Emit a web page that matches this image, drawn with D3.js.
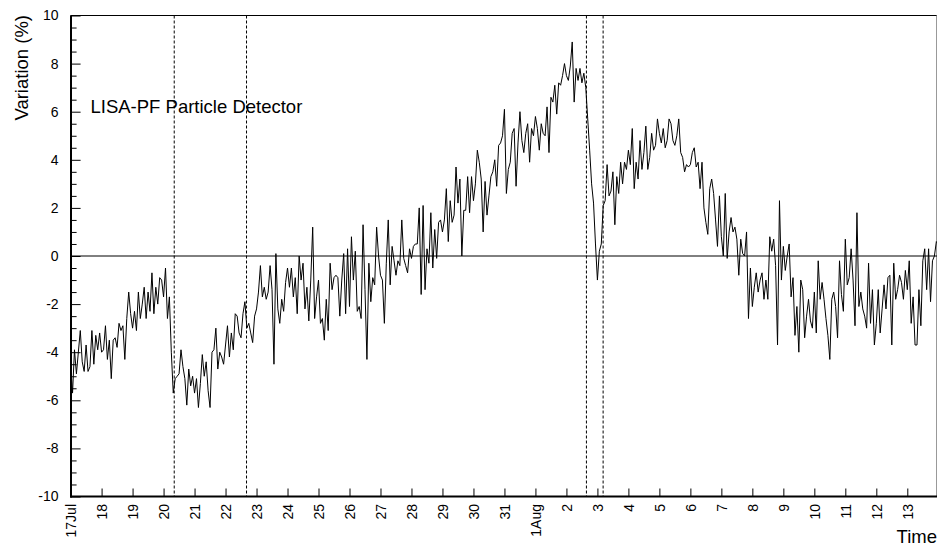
<!DOCTYPE html>
<html>
<head>
<meta charset="utf-8">
<script src="https://cdn.jsdelivr.net/npm/d3@7"></script>
<style>
  html, body { margin: 0; padding: 0; background: #fff; }
  svg { display: block; font-family: "Liberation Sans", Arial, Helvetica, sans-serif; }
</style>
</head>
<body>
<svg id="chart" width="938" height="548"></svg>
<script>
// Time axis: first sample, sampling step and the end of the visible range (UTC)
const startTime = "2016-07-17T00:00:00Z";
const endTime = "2016-08-13T23:00:00Z";
const stepHours = 1.5;

// Relative count-rate variation (%), one value every 1.5 h from 17 Jul
const variation = [
  -4.4,-5.7,-3.9,-4.9,-4.0,-3.1,-4.4,-4.8,-3.7,-4.8,
  -4.6,-3.1,-4.5,-3.3,-3.9,-3.2,-4.0,-3.9,-2.9,-4.3,
  -3.5,-5.1,-3.5,-3.4,-3.8,-2.8,-3.1,-2.9,-4.3,-2.6,
  -1.5,-2.4,-3.0,-2.3,-3.1,-1.5,-2.6,-2.0,-1.3,-2.6,
  -1.5,-2.3,-0.7,-2.4,-1.3,-2.0,-0.9,-1.0,-1.7,-0.5,
  -2.6,-1.7,-4.0,-5.7,-5.1,-5.0,-4.9,-3.9,-4.6,-5.1,
  -6.2,-4.7,-5.4,-5.0,-5.7,-5.1,-6.3,-5.3,-4.1,-5.0,
  -4.4,-5.6,-6.3,-4.0,-3.9,-3.0,-4.7,-4.0,-4.2,-4.5,
  -3.7,-2.9,-4.2,-3.2,-3.9,-2.4,-2.5,-3.2,-3.4,-2.4,
  -1.9,
  -3.0,-2.8,-3.2,-3.6,-2.5,-2.2,-1.5,-0.4,-1.7,-1.3,
  -1.8,-1.5,-0.4,-1.4,-4.5, 0.1,-2.2,-2.8,-1.8,-2.3,
  -1.1,-0.5,-1.3,-0.5,-1.7,-0.9,-2.4, 0.0,-1.0,-0.3,
  -2.2,-1.3,-2.7,-1.0, 1.2,-2.6,-1.7,-1.0,-2.8,-2.6,
  -3.5,-1.8,-3.1,-0.3,-1.4,-0.9,-0.8,-0.9,-2.5,-1.0,
   0.1,-2.4, 0.3,-2.1, 0.8,-1.0, 0.2,-2.3,-2.1,-2.6,
   1.3,-1.4,-4.3,-0.3,-1.9,-0.9,-1.2, 1.2, 0.0,-0.8,
  -1.0,-2.8,-0.3, 1.5,-1.2, 0.4,-0.2,-0.8,-0.2,-0.4,
   1.5,-0.1,-0.4,-0.7, 0.3,-0.1, 0.4, 0.5, 0.5, 2.0,
  -1.6,
   2.1,-1.4, 0.3,-0.3, 1.8,-0.5, 1.1,-0.1, 1.4, 1.5,
   1.0, 1.5, 2.8, 0.6, 2.3, 1.4, 1.7, 3.7, 2.2, 3.2,
   0.0, 1.9, 1.9, 3.3, 1.8, 3.3, 2.3, 3.0, 4.4, 3.9,
   3.2, 1.0, 3.1, 1.7, 2.5, 3.3, 3.5, 4.0, 2.9, 4.6,
   4.7, 5.0, 6.1, 2.6, 3.6, 3.9, 5.1, 5.3, 2.9, 4.7,
   6.0, 4.8, 4.3, 5.1, 5.5, 3.9, 5.3, 5.0, 5.8, 5.3,
   4.4, 5.5, 5.1, 5.0, 6.2, 4.3, 6.6, 6.4, 7.1, 5.9,
   7.2, 7.1, 7.5, 8.0, 7.5, 7.3, 7.9, 8.9, 6.4, 7.8,
   7.3, 7.8, 7.2, 7.6, 7.0,
   5.7, 4.4, 3.0, 2.2, 0.5,-1.0, 0.2, 0.5, 2.1, 2.3,
   3.8, 2.5, 2.7, 3.5, 1.3, 3.3, 2.6, 3.9, 3.0, 3.9,
   3.6, 4.4, 3.8, 5.3, 2.8, 3.9, 3.2, 4.8, 3.6, 4.3,
   5.4, 3.6, 4.1, 5.1, 4.4, 4.6, 5.7, 5.1, 4.7, 5.3,
   4.5, 4.8, 5.7, 5.5, 4.8, 4.6, 5.0, 5.7, 4.3, 4.1,
   3.5, 3.8, 3.7, 3.8, 4.3, 4.5, 3.7, 3.9, 2.8, 3.9,
   2.0, 1.4, 0.9, 2.8, 3.2, 2.6, 1.5, 0.4, 2.5, 0.8,
   0.0, 2.6,-0.1, 1.0, 1.6, 1.0, 1.2, 0.7,-0.8, 0.7,
   0.1, 0.0, 1.0,-2.6,-0.5,-2.1,-1.3,-0.7,-1.5,-1.0,
  -0.7,-1.8,-1.0,-1.8,
   0.8, 0.2, 0.7,-0.4,-3.7, 2.3,-1.0, 0.4,-0.6, 0.0,
   0.5,-1.7,-0.9,-3.3,-2.1,-4.0,-1.0,-1.4,-3.4,-2.5,
  -1.8,-2.7,-3.0,-1.5,-3.2,-0.2,-1.8,-1.1,-1.8,-2.6,
  -3.3,-4.3,-1.8,-1.5,-2.1,-3.4,-0.2,-1.6,-2.3, 0.7,
  -1.2,-0.9, 0.3,-1.0,-2.9, 1.8,-2.1,-1.5,-2.2,-2.5,
  -3.0,-0.3,-2.8,-1.4,-3.7,-2.8,-1.4,-3.2,-2.2,-1.2,
  -2.2,-0.9,-0.8,-3.7,-0.3,-1.8,-1.4,-0.8,-1.1,-1.8,
  -0.6,-1.4,-0.2,-2.8,-1.7,-3.7,-3.7,-1.4,-2.9,-0.2,
   0.3,-1.4, 0.3,-1.9,-0.2, 0.0, 0.6, 0.5
];

// Dashed vertical markers (UTC)
const markerTimes = [
  "2016-07-20T08:15:00Z",
  "2016-07-22T16:15:00Z",
  "2016-08-02T15:30:00Z",
  "2016-08-03T04:25:00Z"
];

// Y axis ticks
const yMajorTicks = [-10, -8, -6, -4, -2, 0, 2, 4, 6, 8, 10];
const yMinorStep = 0.5;

// Texts
const yTitle = "Variation (%)";
const xTitle = "Time";
const plotLabel = "LISA-PF Particle Detector";

// Frame geometry
const frame = { left: 70.6, right: 937, top: 15.5, bottom: 496.5 };

const svg = d3.select("#chart");

const t0 = new Date(startTime);
const x = d3.scaleUtc()
  .domain([t0, new Date(endTime)])
  .range([frame.left, frame.right]);
const y = d3.scaleLinear()
  .domain([-10, 10])
  .range([frame.bottom, frame.top]);

const points = variation.map((v, i) => ({
  t: new Date(t0.getTime() + i * stepHours * 3600e3),
  v
}));

svg.append("defs").append("clipPath").attr("id", "plot-clip")
  .append("rect")
  .attr("x", frame.left).attr("y", frame.top)
  .attr("width", frame.right - frame.left)
  .attr("height", frame.bottom - frame.top);

// Frame: top and right edges
svg.append("line")
  .attr("x1", frame.left).attr("x2", frame.right)
  .attr("y1", frame.top).attr("y2", frame.top)
  .attr("stroke", "#000").attr("stroke-width", 1);
svg.append("line")
  .attr("x1", frame.right - 0.5).attr("x2", frame.right - 0.5)
  .attr("y1", frame.top).attr("y2", frame.bottom)
  .attr("stroke", "#999").attr("stroke-width", 1);

// Zero reference line
svg.append("line")
  .attr("x1", frame.left).attr("x2", frame.right)
  .attr("y1", y(0)).attr("y2", y(0))
  .attr("stroke", "#000").attr("stroke-width", 1);

// Dashed markers
svg.append("g").selectAll("line")
  .data(markerTimes)
  .join("line")
  .attr("x1", d => x(new Date(d))).attr("x2", d => x(new Date(d)))
  .attr("y1", frame.top).attr("y2", frame.bottom)
  .attr("stroke", "#000").attr("stroke-width", 1)
  .attr("stroke-dasharray", "3,2");

// Data line
svg.append("path")
  .datum(points)
  .attr("clip-path", "url(#plot-clip)")
  .attr("fill", "none")
  .attr("stroke", "#000")
  .attr("stroke-width", 1)
  .attr("stroke-linejoin", "miter")
  .attr("d", d3.line().x(d => x(d.t)).y(d => y(d.v)));

// Y axis: minor ticks
const yMinor = d3.range(-10, 10 + 1e-9, yMinorStep).filter(v => !yMajorTicks.includes(v));
svg.append("g")
  .attr("transform", `translate(${frame.left},0)`)
  .call(d3.axisLeft(y).tickValues(yMinor).tickSizeInner(-6).tickSizeOuter(0).tickFormat(""))
  .call(g => g.select(".domain").remove())
  .call(g => g.selectAll("line").attr("stroke", "#000"));

// Y axis: major ticks and labels
svg.append("g")
  .attr("transform", `translate(${frame.left},0)`)
  .call(d3.axisLeft(y).tickValues(yMajorTicks).tickSizeInner(-10).tickSizeOuter(0)
    .tickPadding(12).tickFormat(d => String(d)))
  .call(g => g.select(".domain").remove())
  .call(g => g.selectAll("line").attr("stroke", "#000"))
  .call(g => g.selectAll("text")
    .attr("font-size", 14).attr("fill", "#000")
    .attr("font-family", "'Liberation Sans', Arial, sans-serif"));

// X axis: daily ticks with rotated labels
const dayTicks = d3.utcDay.range(t0, new Date(endTime));
const fmtMonth = d3.utcFormat("%-d%b");
const fmtDay = d3.utcFormat("%-d");
svg.append("g")
  .attr("transform", `translate(0,${frame.bottom})`)
  .call(d3.axisBottom(x).tickValues(dayTicks).tickSizeInner(-8).tickSizeOuter(0)
    .tickFormat((d, i) => (i === 0 || d.getUTCDate() === 1) ? fmtMonth(d) : fmtDay(d)))
  .call(g => g.select(".domain").remove())
  .call(g => g.selectAll("line").attr("stroke", "#000"))
  .call(g => g.selectAll("text")
    .attr("transform", "rotate(-90)")
    .attr("x", -7.5).attr("y", 0).attr("dy", "0.36em")
    .attr("text-anchor", "end")
    .attr("font-size", 14).attr("fill", "#000")
    .attr("font-family", "'Liberation Sans', Arial, sans-serif"));

// Axis lines (left and bottom)
svg.append("line")
  .attr("x1", frame.left + 0.4).attr("x2", frame.left + 0.4)
  .attr("y1", frame.top).attr("y2", frame.bottom + 1)
  .attr("stroke", "#000").attr("stroke-width", 2);
svg.append("line")
  .attr("x1", frame.left - 0.6).attr("x2", frame.right)
  .attr("y1", frame.bottom).attr("y2", frame.bottom)
  .attr("stroke", "#000").attr("stroke-width", 2);

// Titles
svg.append("text")
  .attr("transform", "translate(27.5,15) rotate(-90)")
  .attr("text-anchor", "end")
  .attr("font-size", 18.5)
  .text(yTitle);

svg.append("text")
  .attr("x", 937).attr("y", 543)
  .attr("text-anchor", "end")
  .attr("font-size", 18.5)
  .text(xTitle);

svg.append("text")
  .attr("x", 90.5).attr("y", 113)
  .attr("font-size", 18.5)
  .text(plotLabel);
</script>
</body>
</html>
